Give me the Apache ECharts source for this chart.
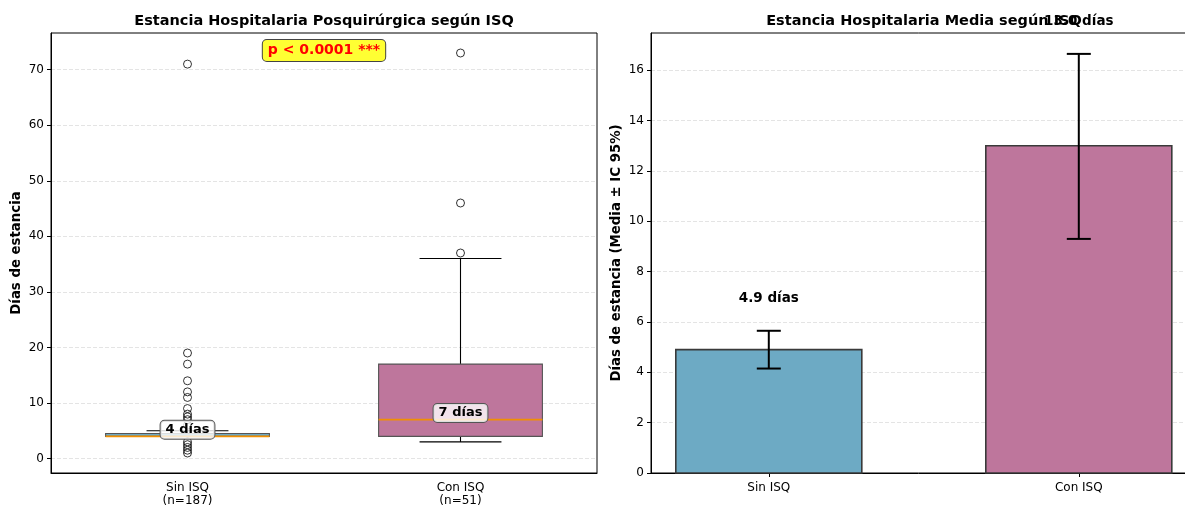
<!DOCTYPE html>
<html><head><meta charset="utf-8">
<script src="https://cdn.jsdelivr.net/npm/echarts@6/dist/echarts.min.js"></script>
<style>html,body{margin:0;padding:0;background:#fff}#c{width:1185px;height:508px}</style>
</head><body><div id="c"></div>
<script>
// ---------- data ----------
const boxCategories = ['Sin ISQ\n(n=187)', 'Con ISQ\n(n=51)'];
const boxLowWhisker = [4, 3];
const boxQ1 = [4, 4];
const boxMedian = [4, 7];
const boxQ3 = [4.5, 17];
const boxHighWhisker = [5, 36];
const medianLabels = ['4 días', '7 días'];
const sinOutliers = [1, 1.5, 2, 2.5, 3, 6, 7, 7.5, 8, 9, 11, 12, 14, 17, 19, 71];
const conOutliers = [37, 46, 73];
const leftTicks = [0, 10, 20, 30, 40, 50, 60, 70];

const barCategories = ['Sin ISQ', 'Con ISQ'];
const barMeans = [4.9, 13.0];
const ciLow = [4.15, 9.3];
const ciHigh = [5.65, 16.65];
const barLabels = ['4.9 días', '13.0 días'];
const rightTicks = [0, 2, 4, 6, 8, 10, 12, 14, 16];
const pValueText = 'p < 0.0001 ***';

// ---------- styles ----------
const FONT = 'DejaVu Sans';
const fills = ['#6DAAC4', '#BE769C'];
const gridLine = { show: true, lineStyle: { color: '#e4e4e4', type: [4, 2], width: 1 } };

const boxData = boxCategories.map((c, i) => [i, boxLowWhisker[i], boxQ1[i], boxMedian[i], boxQ3[i], boxHighWhisker[i]]);
const outlierData = sinOutliers.map(v => [0, v]).concat(conOutliers.map(v => [1, v]));
const barData = barCategories.map((c, i) => [i, barMeans[i], ciLow[i], ciHigh[i]]);

const chart = echarts.init(document.getElementById('c'));
chart.setOption({
  animation: false,
  textStyle: { fontFamily: FONT },
  grid: [
    { left: 51, width: 546, top: 33, bottom: 35, show: true, borderColor: '#000', borderWidth: 1, backgroundColor: 'transparent', outerBoundsMode: 'none', containLabel: false },
    { left: 651, width: 545.6, top: 33, bottom: 35, show: true, borderColor: '#000', borderWidth: 1, backgroundColor: 'transparent', outerBoundsMode: 'none', containLabel: false }
  ],
  xAxis: [
    { type: 'category', gridIndex: 0, data: boxCategories, boundaryGap: true,
      axisLine: { onZero: false, lineStyle: { color: '#000' } },
      axisTick: { alignWithLabel: true, length: 4, lineStyle: { color: '#000' } },
      axisLabel: { color: '#000', fontSize: 12, lineHeight: 13.5, margin: 8, fontFamily: FONT },
      splitLine: { show: false } },
    { type: 'value', gridIndex: 1, min: -0.38, max: 1.38,
      axisLine: { onZero: false, lineStyle: { color: '#000' } },
      axisTick: { length: 4, lineStyle: { color: '#000' }, customValues: [0, 1] },
      axisLabel: { color: '#000', fontSize: 12, margin: 9, fontFamily: FONT, customValues: [0, 1],
        formatter: v => barCategories[Math.round(v)] },
      splitLine: { show: false } }
  ],
  yAxis: [
    { type: 'value', gridIndex: 0, min: -2.6, max: 76.6,
      name: 'Días de estancia', nameLocation: 'middle', nameRotate: 90, nameGap: 28,
      nameTextStyle: { fontWeight: 'bold', fontSize: 13.3, color: '#000', fontFamily: FONT },
      axisLine: { show: true, onZero: false, lineStyle: { color: '#000' } },
      axisTick: { show: true, length: 4, lineStyle: { color: '#000' }, customValues: leftTicks },
      axisLabel: { color: '#000', fontSize: 12, margin: 7, fontFamily: FONT, customValues: leftTicks },
      splitLine: gridLine },
    { type: 'value', gridIndex: 1, min: 0, max: 17.48,
      name: 'Días de estancia (Media ± IC 95%)', nameLocation: 'middle', nameRotate: 90, nameGap: 28,
      nameTextStyle: { fontWeight: 'bold', fontSize: 13.3, color: '#000', fontFamily: FONT },
      axisLine: { show: true, onZero: false, lineStyle: { color: '#000' } },
      axisTick: { show: true, length: 4, lineStyle: { color: '#000' }, customValues: rightTicks },
      axisLabel: { color: '#000', fontSize: 12, margin: 7, fontFamily: FONT, customValues: rightTicks },
      splitLine: gridLine }
  ],
  graphic: [
    { type: 'text', x: 324, y: 21, z: 100, style: { text: 'Estancia Hospitalaria Posquirúrgica según ISQ', font: 'bold 14.5px "DejaVu Sans"', fill: '#000', align: 'center', verticalAlign: 'middle' } },
    { type: 'text', x: 924, y: 21, z: 100, style: { text: 'Estancia Hospitalaria Media según ISQ', font: 'bold 14.5px "DejaVu Sans"', fill: '#000', align: 'center', verticalAlign: 'middle' } },
    { type: 'text', x: 324, y: 50.5, z: 100, style: { text: pValueText, font: 'bold 14px "DejaVu Sans"', fill: '#ff0000', align: 'center', verticalAlign: 'middle',
        backgroundColor: '#ffff33', borderColor: '#444', borderWidth: 1, borderRadius: 4, padding: [4, 5, 3, 5] } }
  ],
  series: [
    { type: 'custom', xAxisIndex: 0, yAxisIndex: 0, data: boxData, z: 2,
      encode: { x: 0, y: [1, 2, 3, 4, 5] },
      renderItem(params, api) {
        const i = api.value(0);
        const band = api.size([1, 0])[0];
        const bw = band * 0.6, cw = band * 0.3;
        const pL = api.coord([i, api.value(1)]);
        const pQ1 = api.coord([i, api.value(2)]);
        const pM = api.coord([i, api.value(3)]);
        const pQ3 = api.coord([i, api.value(4)]);
        const pH = api.coord([i, api.value(5)]);
        const x = pQ1[0];
        const blk = { stroke: '#000', lineWidth: 1.1 };
        return { type: 'group', children: [
          { type: 'line', shape: { x1: x, y1: pQ1[1], x2: x, y2: pL[1] }, style: blk },
          { type: 'line', shape: { x1: x, y1: pQ3[1], x2: x, y2: pH[1] }, style: blk },
          { type: 'line', shape: { x1: x - cw / 2, y1: pL[1], x2: x + cw / 2, y2: pL[1] }, style: blk },
          { type: 'line', shape: { x1: x - cw / 2, y1: pH[1], x2: x + cw / 2, y2: pH[1] }, style: blk },
          { type: 'rect', shape: { x: x - bw / 2, y: pQ3[1], width: bw, height: pQ1[1] - pQ3[1] },
            style: { fill: fills[i], stroke: '#555', lineWidth: 1.1 } },
          { type: 'line', shape: { x1: x - bw / 2, y1: pM[1], x2: x + bw / 2, y2: pM[1] }, style: { stroke: '#F18F01', lineWidth: 1.7 } }
        ] };
      } },
    { type: 'scatter', xAxisIndex: 0, yAxisIndex: 0, data: outlierData, z: 3,
      symbol: 'circle', symbolSize: 8,
      itemStyle: { color: 'rgba(255,255,255,0)', borderColor: '#000', borderWidth: 1 } },
    { type: 'custom', xAxisIndex: 0, yAxisIndex: 0, data: boxData, z: 5,
      renderItem(params, api) {
        const i = api.value(0);
        const p = api.coord([i, api.value(3) + 1.2]);
        return { type: 'text', x: p[0], y: p[1], style: { text: medianLabels[i], font: 'bold 13px "DejaVu Sans"', fill: '#000',
          align: 'center', verticalAlign: 'middle', backgroundColor: 'rgba(255,255,255,0.8)', borderColor: '#555', borderWidth: 1,
          borderRadius: 4, padding: [3, 5, 2, 5] } };
      } },
    { type: 'custom', xAxisIndex: 1, yAxisIndex: 1, data: barData, z: 2,
      encode: { x: 0, y: [1, 2, 3] },
      renderItem(params, api) {
        const i = api.value(0);
        const unit = api.size([1, 0])[0];
        const w = unit * 0.6;
        const top = api.coord([i, api.value(1)]);
        const base = api.coord([i, 0]);
        const lo = api.coord([i, api.value(2)]);
        const hi = api.coord([i, api.value(3)]);
        const lab = api.coord([i, api.value(3) + 1.3]);
        const x = top[0];
        const ek = { stroke: '#000', lineWidth: 2 };
        return { type: 'group', children: [
          { type: 'rect', shape: { x: x - w / 2, y: top[1], width: w, height: base[1] - top[1] },
            style: { fill: fills[i], stroke: '#3a3a3a', lineWidth: 1.6 } },
          { type: 'line', shape: { x1: x, y1: lo[1], x2: x, y2: hi[1] }, style: ek },
          { type: 'line', shape: { x1: x - 12, y1: lo[1], x2: x + 12, y2: lo[1] }, style: ek },
          { type: 'line', shape: { x1: x - 12, y1: hi[1], x2: x + 12, y2: hi[1] }, style: ek },
          { type: 'text', x: x, y: lab[1], z2: 10, style: { text: barLabels[i], font: 'bold 13.5px "DejaVu Sans"', fill: '#000', align: 'center', verticalAlign: 'middle' } }
        ] };
      } }
  ]
});
</script></body></html>
